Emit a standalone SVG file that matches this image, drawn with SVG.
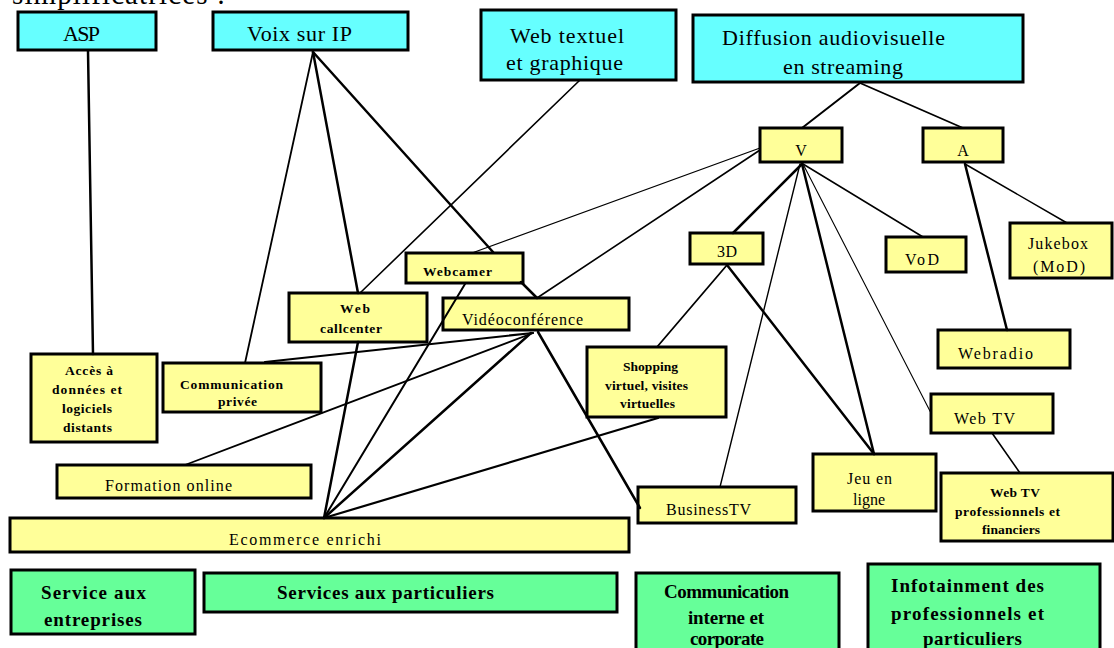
<svg xmlns="http://www.w3.org/2000/svg" width="1114" height="648" viewBox="0 0 1114 648">
<style>
.cy{fill:#66FFFF;stroke:#000;stroke-width:3}
.ye{fill:#FFFF99;stroke:#000;stroke-width:3}
.gr{fill:#66FF99;stroke:#000;stroke-width:3}
text{font-family:"Liberation Serif","Times New Roman",serif;fill:#000}
.b{font-size:22px}
.m{font-size:16px}
.s{font-size:13.5px;font-weight:bold}
.g{font-size:19px;font-weight:bold}
.c{text-anchor:middle}
.k{stroke:#000;fill:none;stroke-linecap:round}
</style>
<rect width="1114" height="648" fill="#fff"/>
<text x="12" y="4" font-size="29" textLength="213">simplificatrices :</text>

<g id="asp"><rect class="cy" x="18" y="12" width="138" height="38"/><text class="b" x="63" y="41" font-size="23" textLength="37">ASP</text></g>
<g id="voix"><rect class="cy" x="213" y="12" width="195" height="38"/><text class="b" x="247" y="41" textLength="105">Voix sur IP</text></g>
<g id="webtext"><rect class="cy" x="481" y="10" width="195" height="70"/><text class="b" x="510" y="43" textLength="114">Web textuel</text><text class="b" x="506" y="70" textLength="117">et graphique</text></g>
<g id="diffusion"><rect class="cy" x="693" y="15" width="330" height="67"/><text class="b" x="722" y="45" textLength="223">Diffusion audiovisuelle</text><text class="b" x="783" y="74" textLength="120">en streaming</text></g>
<g id="v"><rect class="ye" x="760" y="128" width="82" height="34"/><text class="m c" x="801" y="156">V</text></g>
<g id="a"><rect class="ye" x="923" y="128" width="80" height="34"/><text class="m c" x="963" y="156">A</text></g>
<g id="d3"><rect class="ye" x="690" y="233" width="73" height="31"/><text class="m" x="717" y="257" font-size="15" textLength="20">3D</text></g>
<g id="vod"><rect class="ye" x="886" y="237" width="80" height="35"/><text class="m" x="905" y="265" textLength="34">VoD</text></g>
<g id="jukebox"><rect class="ye" x="1010" y="223" width="102" height="55"/><text class="m" x="1028" y="249" font-size="15" textLength="60">Jukebox</text><text class="m" x="1033" y="272" font-size="15" textLength="52">(MoD)</text></g>
<g id="webcamer"><rect class="ye" x="406" y="253" width="117" height="30"/><text class="s" x="423" y="276" textLength="69">Webcamer</text></g>
<g id="callcenter"><rect class="ye" x="289" y="293" width="138" height="49"/><text class="s" x="340" y="313" textLength="30">Web</text><text class="s" x="320" y="333" textLength="62">callcenter</text></g>
<g id="visio"><rect class="ye" x="443" y="298" width="186" height="32"/><text class="m" x="462" y="325" textLength="121">Vidéoconférence</text></g>
<g id="acces"><rect class="ye" x="31" y="354" width="126" height="88"/><text class="s" x="65" y="375" textLength="48">Accès à</text><text class="s" x="52" y="394" textLength="70">données et</text><text class="s" x="62" y="413" textLength="50">logiciels</text><text class="s" x="63" y="432" textLength="49">distants</text></g>
<g id="commprivee"><rect class="ye" x="163" y="363" width="158" height="49"/><text class="s" x="180" y="389" textLength="103">Communication</text><text class="s" x="218" y="406" textLength="39">privée</text></g>
<g id="shopping"><rect class="ye" x="587" y="347" width="139" height="70"/><text class="s" x="623" y="371" textLength="55">Shopping</text><text class="s" x="605" y="390" textLength="83">virtuel, visites</text><text class="s" x="620" y="408" textLength="55">virtuelles</text></g>
<g id="webradio"><rect class="ye" x="938" y="330" width="132" height="38"/><text class="m" x="958" y="359" font-size="17" textLength="75">Webradio</text></g>
<g id="webtv"><rect class="ye" x="931" y="394" width="122" height="39"/><text class="m" x="954" y="424" font-size="17" textLength="61">Web TV</text></g>
<g id="jeu"><rect class="ye" x="813" y="454" width="123" height="57"/><text class="m" x="847" y="484" textLength="45">Jeu en</text><text class="m" x="853" y="505" textLength="32">ligne</text></g>
<g id="webtvpro"><rect class="ye" x="941" y="473" width="172" height="68"/><text class="s" x="990" y="497" textLength="50">Web TV</text><text class="s" x="955" y="516" textLength="105">professionnels et</text><text class="s" x="982" y="534" textLength="58">financiers</text></g>
<g id="formation"><rect class="ye" x="57" y="465" width="254" height="33"/><text class="m" x="105" y="491" textLength="127">Formation online</text></g>
<g id="businesstv"><rect class="ye" x="638" y="487" width="158" height="36"/><text class="m" x="666" y="515" font-size="17" textLength="85">BusinessTV</text></g>
<g id="ecommerce"><rect class="ye" x="10" y="518" width="619" height="34"/><text class="m" x="229" y="545" font-size="18" textLength="152">Ecommerce enrichi</text></g>

<g id="cat-entreprises"><rect class="gr" x="11" y="570" width="184" height="64"/><text class="g" x="41" y="599" textLength="105">Service aux</text><text class="g" x="44" y="626" textLength="98">entreprises</text></g>
<g id="cat-particuliers"><rect class="gr" x="204" y="573" width="413" height="39"/><text class="g" x="277" y="599" textLength="217">Services aux particuliers</text></g>
<g id="cat-corporate"><rect class="gr" x="636" y="573" width="203" height="80"/><text class="g" x="664" y="598" textLength="125">Communication</text><text class="g" x="688" y="624" textLength="76">interne et</text><text class="g" x="690" y="645" textLength="74">corporate</text></g>
<g id="cat-infotainment"><rect class="gr" x="868" y="564" width="232" height="90"/><text class="g" x="891" y="592" textLength="153">Infotainment des</text><text class="g" x="891" y="620" textLength="153">professionnels et</text><text class="g" x="923" y="645" textLength="99">particuliers</text></g>

<g id="connectors" class="k">
<path d="M88,51 L93,354" stroke-width="2.5"/>
<path d="M313,52 L358,293" stroke-width="2.5"/>
<path d="M313,52 L493,252 M521,282 L537,298" stroke-width="2.5"/>
<path d="M313,52 L245,363" stroke-width="1.8"/>
<path d="M580,80 L360,293" stroke-width="1.6"/>
<path d="M860,83 L802,128" stroke-width="2"/>
<path d="M860,83 L963,128" stroke-width="1.8"/>
<path d="M760,148 L472,253" stroke-width="1.3"/>
<path d="M760,150 L537,298" stroke-width="1.6"/>
<path d="M802,164 L733,233" stroke-width="2.5"/>
<path d="M800,164 L720,487" stroke-width="1.4"/>
<path d="M802,164 L874,454" stroke-width="2.5"/>
<path d="M803,164 L931,413" stroke-width="1.1"/>
<path d="M803,164 L923,237" stroke-width="1.5"/>
<path d="M727,265 L874,454" stroke-width="2.5"/>
<path d="M727,265 L657,347" stroke-width="1.8"/>
<path d="M965,164 L1007,330" stroke-width="2.5"/>
<path d="M965,164 L1067,223" stroke-width="1.5"/>
<path d="M992,433 L1020,473" stroke-width="1.6"/>
<path d="M538,332 L640,508" stroke-width="2.5"/>
<path d="M533,333 L265,362" stroke-width="2.2"/>
<path d="M533,333 L185,465" stroke-width="1.8"/>
<path d="M324,518 L358,342" stroke-width="2.5"/>
<path d="M324,518 L465,284" stroke-width="2"/>
<path d="M324,518 L531,333" stroke-width="2.5"/>
<path d="M324,518 L658,418" stroke-width="2.2"/>
</g>
</svg>
